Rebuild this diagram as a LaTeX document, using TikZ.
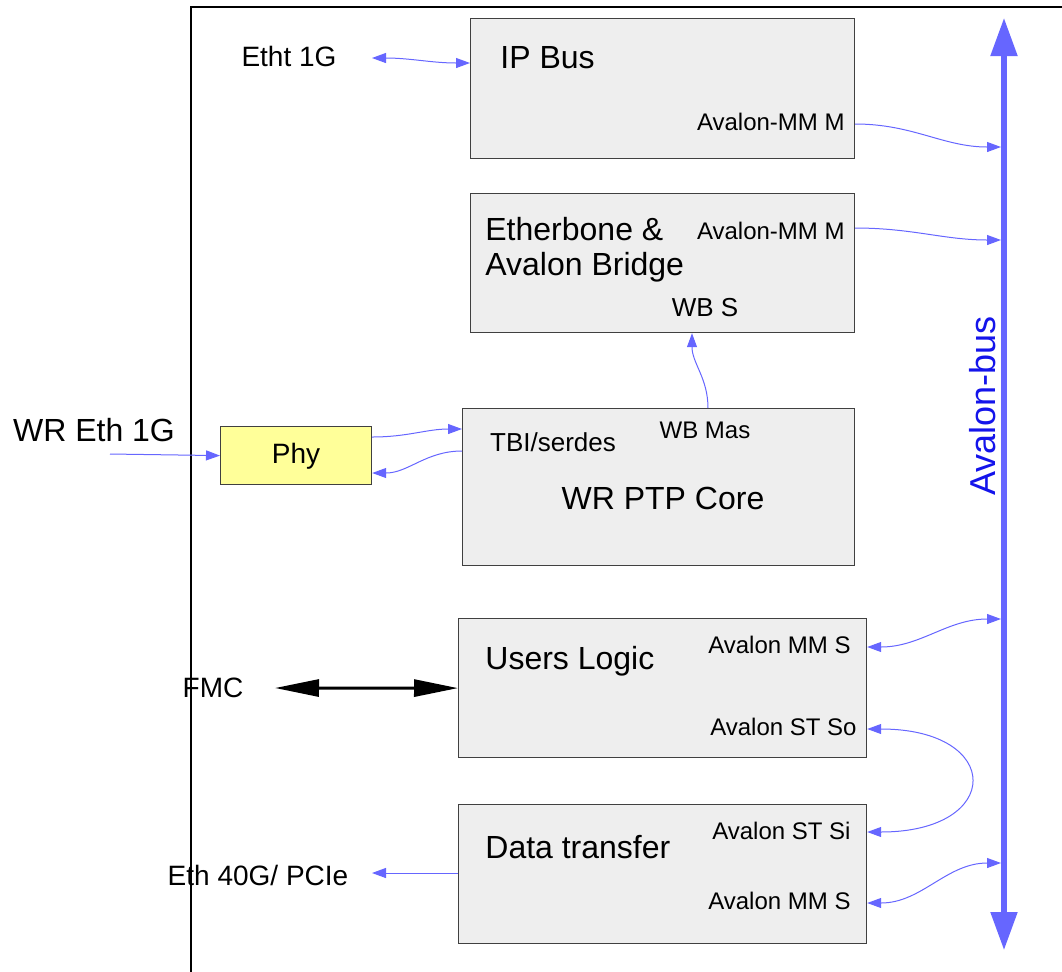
\documentclass[tikz,border=0pt]{standalone}
\usepackage{fontspec}
\setmainfont{Liberation Sans}
\usetikzlibrary{arrows.meta}
\definecolor{linkblue}{RGB}{102,102,255}
\definecolor{buslabel}{RGB}{20,20,235}
\definecolor{boxgray}{RGB}{238,238,238}
\definecolor{phyyellow}{RGB}{255,255,153}
\tikzset{
  blk/.style={draw=black!75, line width=0.6pt, fill=boxgray, anchor=north west, inner sep=0pt},
  big/.style={font=\fontsize{16}{17.5}\selectfont, inner sep=0pt},
  mid/.style={font=\fontsize{14}{16}\selectfont, inner sep=0pt},
  port/.style={font=\fontsize{12}{14}\selectfont, inner sep=0pt},
  link/.style={draw=linkblue, line width=0.5pt, arrows={-Triangle[length=7pt,width=5pt]}},
  dlink/.style={link, arrows={Triangle[length=7pt,width=5pt]-Triangle[length=7pt,width=5pt]}},
  busline/.style={draw=linkblue, line width=2.6pt, arrows={Triangle[length=19pt,width=13pt]-Triangle[length=19pt,width=13pt]}},
}
\begin{document}
\begin{tikzpicture}[x=0.5pt, y=-0.5pt]
  \useasboundingbox (0,0) rectangle (1062,971);
  % outer frame
  \draw[line width=1.3pt] (1080,7) -- (191,7) -- (191,990);

  % blocks
  \node[blk, minimum width=192pt, minimum height=70pt] (ipbus) at (470,18) {};
  \node[blk, minimum width=192pt, minimum height=69.5pt] (ebone) at (470,193) {};
  \node[blk, minimum width=196pt, minimum height=78.5pt] (wrcore) at (462,408) {};
  \node[blk, fill=phyyellow, minimum width=75.5pt, minimum height=29pt] (phy) at (220,426) {};
  \node[blk, minimum width=204pt, minimum height=69.5pt] (users) at (458,618) {};
  \node[blk, minimum width=204pt, minimum height=69.5pt] (data) at (458,804) {};

  % block texts
  \node[big, anchor=west] (ipbustxt) at (500,58) {IP Bus};
  \node[big, anchor=west, align=left] (ebonetxt) at (485,250) {Etherbone \&\\Avalon Bridge};
  \node[big] (wrcoretxt) at (663,498) {WR PTP Core};
  \node[mid] (phytxt) at (296,456) {Phy};
  \node[big, anchor=west] (userstxt) at (485,661) {Users Logic};
  \node[big, anchor=west] (datatxt) at (485,847) {Data transfer};

  % ports
  \node[port, anchor=east] (ipbusmm) at (845,122) {Avalon-MM M};
  \node[port, anchor=east] (ebonemm) at (845,231) {Avalon-MM M};
  \node[font=\fontsize{13}{15}\selectfont, inner sep=0pt] (ebonewb) at (705,308) {WB S};
  \node[port] (wrcorewb) at (705,430) {WB Mas};
  \node[font=\fontsize{13}{15}\selectfont, inner sep=0pt] (wrcoretbi) at (553,442) {TBI/serdes};
  \node[port, anchor=east] (usersmm) at (851,645) {Avalon MM S};
  \node[port, anchor=east] (usersst) at (857,727) {Avalon ST So};
  \node[port, anchor=east] (datast) at (851,831) {Avalon ST Si};
  \node[port, anchor=east] (datamm) at (851,901) {Avalon MM S};

  % outside labels
  \node[mid] (etht) at (289,56) {Etht 1G};
  \node[big] (wreth) at (94,430) {WR Eth 1G};
  \node[mid] (fmc) at (213,688) {FMC};
  \node[mid] (eth40) at (258,875) {Eth 40G/ PCIe};

  % avalon bus
  \coordinate (bustop) at (1004,18);
  \coordinate (busbot) at (1004,950);
  \draw[busline] (busbot) -- (bustop);
  \node[font=\fontsize{18}{20}\selectfont, text=buslabel, rotate=90, inner sep=0pt] (buslbl) at (983,406) {Avalon-bus};
  \coordinate (bus1) at (1001,147);
  \coordinate (bus2) at (1001,240);
  \coordinate (bus3) at (1001,619);
  \coordinate (bus4) at (1001,863);

  % free ends
  \coordinate (ethtend) at (372,58);
  \coordinate (wrethend) at (110,454);
  \coordinate (fmcend) at (275,688);
  \coordinate (eth40end) at (372,873);

  % connectors
  \draw[dlink] (ethtend) to[out=0, in=180] ([yshift=-2.5pt]ipbus.west |- ipbustxt);
  \draw[link] (ipbus.east |- 0,124) to[out=0, in=180] (bus1);
  \draw[link] (ebone.east |- 0,228) to[out=0, in=180] (bus2);
  \draw[link] (wrcore.north -| 708,0) to[out=90, in=-90] (ebone.south -| 692,0);
  \draw[link] (phy.east |- 0,437) to[out=0, in=180] (wrcore.west |- 0,429);
  \draw[link] (wrcore.west |- 0,451) to[out=180, in=0] (phy.east |- 0,473);
  \draw[link] (wrethend) -- (phy.west);
  \draw[line width=1.5pt, arrows={Triangle[length=22pt,width=8.5pt]-Triangle[length=22pt,width=8.5pt]}] (fmcend) -- (users.west);
  \draw[dlink] (users.east |- 0,647) to[out=0, in=180] (bus3);
  \draw[dlink] (users.east |- 0,729) to[out=0, in=0, looseness=3.4] (data.east |- 0,832);
  \draw[dlink] (data.east |- 0,903) to[out=0, in=180] (bus4);
  \draw[link] (data.west |- 0,873) -- (eth40end);
\end{tikzpicture}
\end{document}
